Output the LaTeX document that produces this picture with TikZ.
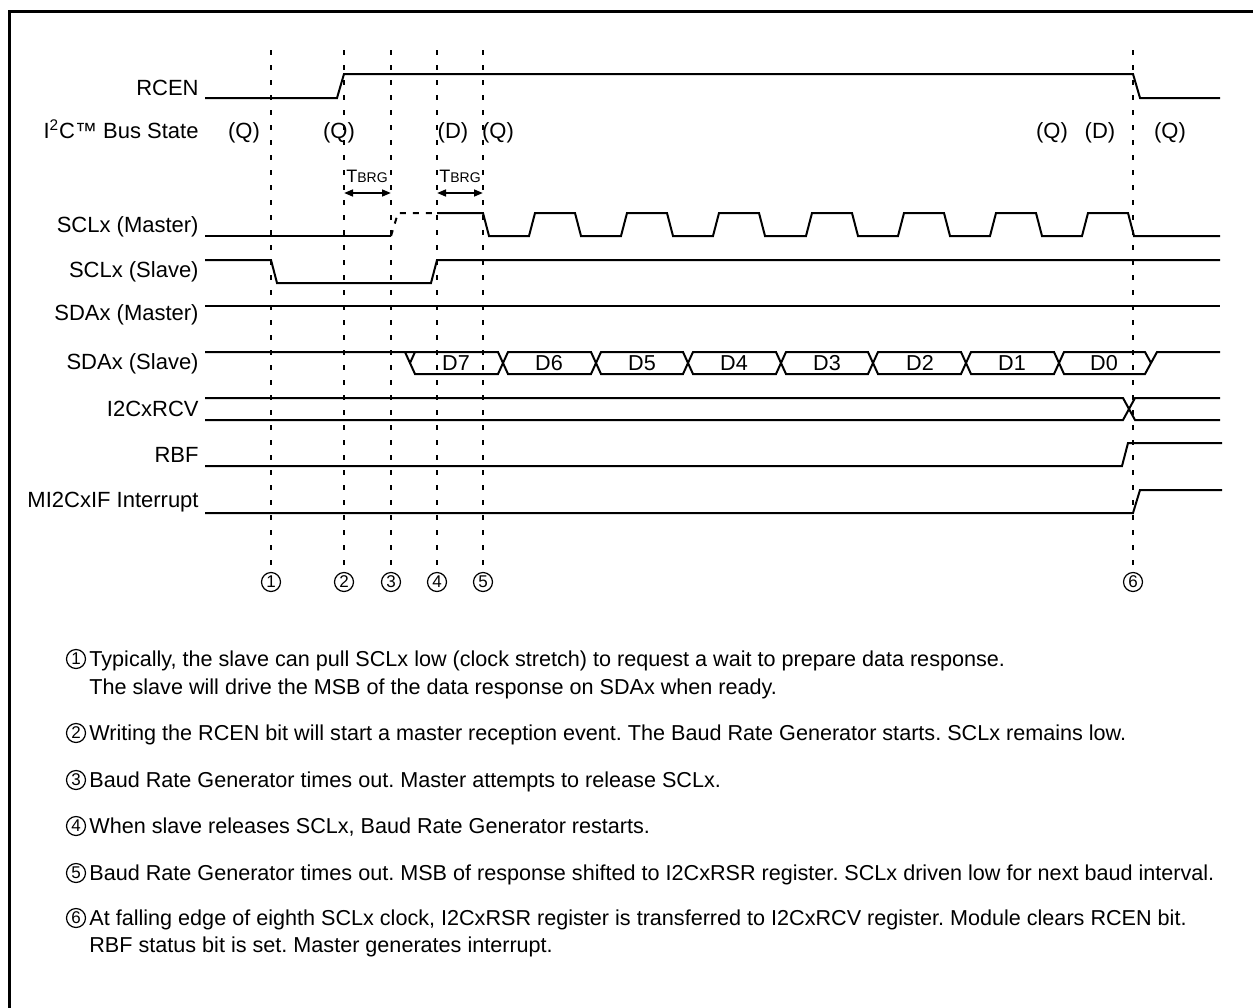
\documentclass[tikz,border=0pt]{standalone}
\usepackage{fontspec}
\setmainfont{Liberation Sans}
\usetikzlibrary{arrows.meta}

\begin{document}
\begin{tikzpicture}
	% Styles
	[
	x=0.5pt, y=-0.5pt,
	every node/.style={inner sep=0pt, font=\fontsize{10.8}{13}\selectfont},
	signame/.style={anchor=base east, font=\fontsize{11}{13}\selectfont},
	state/.style={anchor=base, font=\fontsize{11}{13}\selectfont},
	bits/.style={anchor=base},
	wave/.style={line width=1pt},
	released/.style={line width=1pt, dash pattern=on 3pt off 3.5pt},
	guide/.style={line width=1pt, dash pattern=on 2.5pt off 5pt, shorten >=3pt},
	tspan/.style={line width=1pt, {Triangle[length=4.5pt,width=3.4pt]}-{Triangle[length=4.5pt,width=3.4pt]}},
	event/.style={circle, draw, line width=0.6pt, minimum size=9.5pt, font=\fontsize{8.5}{9}\selectfont},
	note/.style={anchor=base west, font=\fontsize{10.8}{13}\selectfont\frenchspacing}
	]

	\useasboundingbox (0,0) rectangle (1253,1007);
	\draw[line width=1.5pt] (9,11) rectangle (1290,1040);

	% Signal names
	\node at (199,95)	(rcen)	[signame] {RCEN};
	\node at (199,138)	(bus)	[signame] {I\textsuperscript{2}C™ Bus State};
	\node at (199,232)	(sclm)	[signame] {SCLx (Master)};
	\node at (199,277)	(scls)	[signame] {SCLx (Slave)};
	\node at (199,320)	(sdam)	[signame] {SDAx (Master)};
	\node at (199,369)	(sdas)	[signame] {SDAx (Slave)};
	\node at (199,416)	(rcv)	[signame] {I2CxRCV};
	\node at (199,462)	(rbf)	[signame] {RBF};
	\node at (199,507)	(irq)	[signame] {MI2CxIF Interrupt};

	% Bus states
	\node at (244,138)	(q1)	[state] {(Q)};
	\node at (339,138)	(q2)	[state] {(Q)};
	\node at (453,138)	(d1)	[state] {(D)};
	\node at (498,138)	(q3)	[state] {(Q)};
	\node at (1052,138)	(q4)	[state] {(Q)};
	\node at (1100,138)	(d2)	[state] {(D)};
	\node at (1170,138)	(q5)	[state] {(Q)};

	% Events
	\node at (271,582)	(m1)	[event] {1};
	\node at (344,582)	(m2)	[event] {2};
	\node at (391,582)	(m3)	[event] {3};
	\node at (437,582)	(m4)	[event] {4};
	\node at (483,582)	(m5)	[event] {5};
	\node at (1133,582)	(m6)	[event] {6};
	\coordinate (g1) at (271,50);
	\coordinate (g2) at (344,50);
	\coordinate (g3) at (391,50);
	\coordinate (g4) at (437,50);
	\coordinate (g5) at (483,50);
	\coordinate (g6) at (1133,50);
	\draw[guide] (g1) -- (m1.north);
	\draw[guide] (g2) -- (m2.north);
	\draw[guide] (g3) -- (m3.north);
	\draw[guide] (g4) -- (m4.north);
	\draw[guide] (g5) -- (m5.north);
	\draw[guide] (g6) -- (m6.north);

	% Baud intervals
	\node at (367,182)	(tb1)	[state] {\fontsize{9}{10}\selectfont T\fontsize{7}{8}\selectfont BRG};
	\node at (460,182)	(tb2)	[state] {\fontsize{9}{10}\selectfont T\fontsize{7}{8}\selectfont BRG};
	\coordinate (a2) at (344,193);
	\coordinate (a3) at (391,193);
	\coordinate (a4) at (437,193);
	\coordinate (a5) at (483,193);
	\draw[tspan] (a2) -- (a3);
	\draw[tspan] (a4) -- (a5);

	% Waveforms
	\draw[wave] (205,98) -- (337,98) -- (344,74) -- (1133,74) -- (1140,98) -- (1220,98);
	\draw[wave] (205,236) -- (391,236);
	\draw[released] (391,236) -- (398,213) -- (437,213);
	\draw[wave] (437,213) -- (483,213) -- (489,236)
		-- (529,236) -- (535,213) -- (575,213) -- (581,236)
		-- (621,236) -- (627,213) -- (667,213) -- (673,236)
		-- (713,236) -- (719,213) -- (759,213) -- (765,236)
		-- (806,236) -- (812,213) -- (852,213) -- (858,236)
		-- (898,236) -- (904,213) -- (944,213) -- (950,236)
		-- (990,236) -- (996,213) -- (1036,213) -- (1042,236)
		-- (1082,236) -- (1088,213) -- (1128,213) -- (1134,236) -- (1220,236);
	\draw[wave] (205,260) -- (271,260) -- (277,283) -- (431,283) -- (437,260) -- (1220,260);
	\draw[wave] (205,306) -- (1220,306);
	\draw[wave] (205,352) -- (498,352) -- (508,374) -- (591,374) -- (601,352) -- (683,352)
		-- (693,374) -- (776,374) -- (786,352) -- (868,352) -- (878,374) -- (961,374)
		-- (971,352) -- (1054,352) -- (1064,374) -- (1145,374) -- (1157,352) -- (1220,352);
	\draw[wave] (405,352) -- (415,374) -- (498,374) -- (508,352) -- (591,352) -- (601,374)
		-- (683,374) -- (693,352) -- (776,352) -- (786,374) -- (868,374) -- (878,352)
		-- (961,352) -- (971,374) -- (1054,374) -- (1064,352) -- (1145,352) -- (1151,363);
	\draw[wave] (410,363) -- (415,352);
	\draw[wave] (205,398) -- (1123,398) -- (1135,420) -- (1220,420);
	\draw[wave] (205,420) -- (1123,420) -- (1135,398) -- (1220,398);
	\draw[wave] (205,466) -- (1122,466) -- (1128,443) -- (1222,443);
	\draw[wave] (205,513) -- (1133,513) -- (1140,490) -- (1222,490);

	% Data bits
	\node at (456,370)	(b7)	[bits] {D7};
	\node at (549,370)	(b6)	[bits] {D6};
	\node at (642,370)	(b5)	[bits] {D5};
	\node at (734,370)	(b4)	[bits] {D4};
	\node at (827,370)	(b3)	[bits] {D3};
	\node at (920,370)	(b2)	[bits] {D2};
	\node at (1012,370)	(b1)	[bits] {D1};
	\node at (1104,370)	(b0)	[bits] {D0};

	% Notes
	\node at (76,659)	(n1)	[event] {1};
	\node at (76,733)	(n2)	[event] {2};
	\node at (76,780)	(n3)	[event] {3};
	\node at (76,826)	(n4)	[event] {4};
	\node at (76,873)	(n5)	[event] {5};
	\node at (76,918)	(n6)	[event] {6};
	\node at (89,666)	(t1)	[note] {Typically, the slave can pull SCLx low (clock stretch) to request a wait to prepare data response.};
	\node at (89,694)	(t1b)	[note] {The slave will drive the MSB of the data response on SDAx when ready.};
	\node at (89,740)	(t2)	[note] {Writing the RCEN bit will start a master reception event. The Baud Rate Generator starts. SCLx remains low.};
	\node at (89,787)	(t3)	[note] {Baud Rate Generator times out. Master attempts to release SCLx.};
	\node at (89,833)	(t4)	[note] {When slave releases SCLx, Baud Rate Generator restarts.};
	\node at (89,880)	(t5)	[note] {Baud Rate Generator times out. MSB of response shifted to I2CxRSR register. SCLx driven low for next baud interval.};
	\node at (89,925)	(t6)	[note] {At falling edge of eighth SCLx clock, I2CxRSR register is transferred to I2CxRCV register. Module clears RCEN bit.};
	\node at (89,952)	(t6b)	[note] {RBF status bit is set. Master generates interrupt.};

\end{tikzpicture}
\end{document}
